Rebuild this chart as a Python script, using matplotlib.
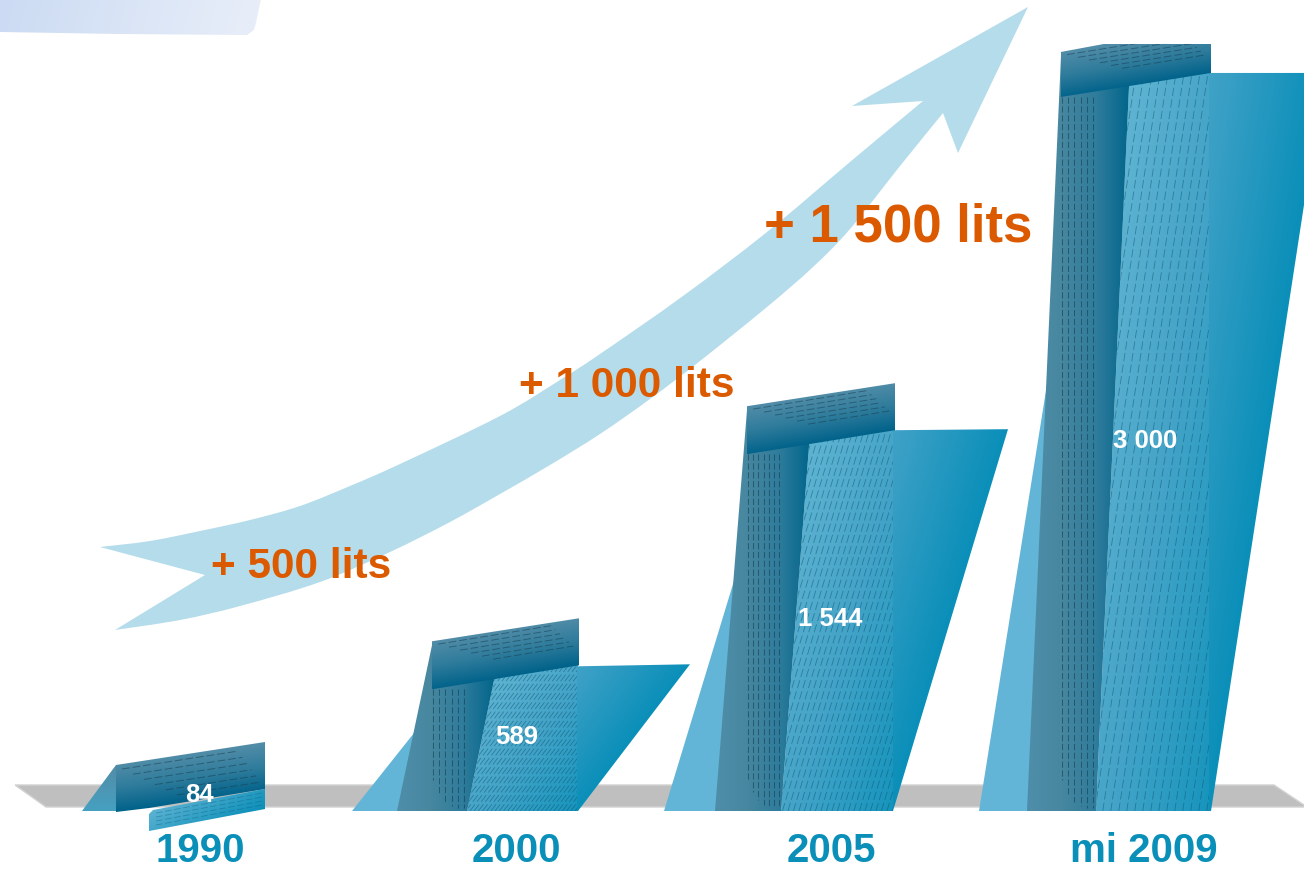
import numpy as np
import matplotlib
matplotlib.use("Agg")
import matplotlib.pyplot as plt
from matplotlib.patches import Polygon, PathPatch
from matplotlib.path import Path
from matplotlib.collections import LineCollection
from matplotlib.colors import LinearSegmentedColormap

plt.rcParams['font.family'] = ['Liberation Sans', 'DejaVu Sans']

# ---- data ----
categories = ["1990", "2000", "2005", "mi 2009"]
values = [84, 589, 1544, 3000]
value_labels = ["84", "589", "1 544", "3 000"]
gains = ["+ 500 lits", "+ 1 000 lits", "+ 1 500 lits"]

# ---- style ----
BLUE_TXT = "#0A8FB9"
ORANGE = "#DB5A00"
PALE = "#62B5D6"
ARROW = "#B4DCEA"
FACE = ["#58B0D0", "#3A9FC5", "#0A8FB9"]
COL = ["#4F8EAA", "#47879F", "#2F7C9C", "#00658B"]
SLAB = ["#528DA8", "#2F7C9C", "#00628A"]
HATCH = "#0D5A7A"
BASE = 812


def top_of(v):
    return BASE - (46.6 + 0.3045 * v ** 0.97)


fig = plt.figure(figsize=(13.04, 8.70), dpi=100)
ax = fig.add_axes([0, 0, 1, 1])
ax.set_xlim(0, 1304)
ax.set_ylim(870, 0)
ax.axis("off")
ax.autoscale(False)


def grad(verts, stops, angle, z):
    """Gradient filled polygon; the stops span the polygon's own extent."""
    v = np.asarray(verts, float)
    x0, y0 = v.min(axis=0)
    x1, y1 = v.max(axis=0)
    nx, ny = max(int(x1 - x0), 2), max(int(y1 - y0), 2)
    X, Y = np.meshgrid(np.linspace(x0, x1, nx), np.linspace(y0, y1, ny))
    a = np.deg2rad(angle)
    t = X * np.cos(a) + Y * np.sin(a)
    tv = v[:, 0] * np.cos(a) + v[:, 1] * np.sin(a)
    t = np.clip((t - tv.min()) / (tv.max() - tv.min()), 0, 1)
    cmap = LinearSegmentedColormap.from_list("g", stops)
    im = ax.imshow(t, cmap=cmap, vmin=0, vmax=1, extent=(x0, x1, y1, y0), origin="upper",
                   aspect="auto", interpolation="bilinear", zorder=z)
    p = Polygon(v, closed=True, fc="none", ec="none", zorder=z)
    ax.add_patch(p)
    im.set_clip_path(p)
    return p


def smooth(points):
    """Catmull-Rom outline through points -> Bezier path codes."""
    P = np.asarray(points, float)
    verts, codes = [], []
    for i in range(len(P) - 1):
        p0 = P[max(i - 1, 0)]
        p1, p2 = P[i], P[i + 1]
        p3 = P[min(i + 2, len(P) - 1)]
        verts += [p1 + (p2 - p0) / 6, p2 - (p3 - p1) / 6, p2]
        codes += [Path.CURVE4] * 3
    return verts, codes


def dashes(segs, clip, z, lw=0.7, pat=(7, 4), alpha=0.55, color=HATCH):
    lc = LineCollection(segs, colors=color, linewidths=lw, alpha=alpha,
                        linestyles=[(0, pat)], zorder=z)
    ax.add_collection(lc)
    if clip is not None:
        p = Polygon(clip, closed=True, fc="none", ec="none", zorder=z)
        ax.add_patch(p)
        lc.set_clip_path(p)


# ---- top-left banner remnant ----
grad([(0, 0), (261, 0), (256, 24), (254, 31), (247, 36), (120, 35), (0, 33)],
     ["#CBDBF3", "#E8EEF9"], 15, 1)

# ---- floor ----
ax.add_patch(Polygon([(15, 786), (1274, 786), (1304, 806), (1304, 808), (46, 808)],
                     closed=True, fc="#BFBFBF", ec="#D2D2D2", lw=1, zorder=2))

# ---- growth arrow ----
upper = [(100, 548), (150, 542), (200, 532), (250, 521), (300, 507), (350, 487), (400, 465),
         (500, 417), (560, 381), (600, 355), (683, 297), (767, 233), (850, 163), (923, 102)]
lower = [(943, 114), (900, 167), (850, 230), (813, 268), (767, 308), (700, 362), (650, 400),
         (600, 435), (550, 466), (500, 495), (450, 523), (390, 553), (320, 583), (240, 607),
         (180, 621), (115, 631)]
uv, uc = smooth(upper)
lv, lc_ = smooth(lower)
av = [upper[0]] + uv + [(852, 107), (1028, 8), (958, 154), lower[0]] + lv + [(205, 576), upper[0], upper[0]]
ac = [Path.MOVETO] + uc + [Path.LINETO] * 4 + lc_ + [Path.LINETO, Path.LINETO, Path.CLOSEPOLY]
ax.add_patch(PathPatch(Path(av, ac), fc=ARROW, ec="none", zorder=3))

# ---- tall bars: outline offsets are relative to each bar's top ----
tall = [
    dict(i=1, pale=352, c0=397, c1=467, apex=(417, 113), ct0=432, ct1=494, fr=578, far=690,
         slab=[(432, 25), (579, 2), (579, 49), (432, 73)], ft=(494, 64), fm=(578, 50), ff=48, dy=[],
         step=4.2, nv=6),
    dict(i=2, pale=664, c0=715, c1=781, apex=(736, 187), ct0=747, ct1=809, fr=893, far=1008,
         slab=[(747, 19), (895, -4), (895, 43), (747, 67)], ft=(809, 59), fm=(895, 43), ff=42, dy=[],
         step=5.5, nv=7),
    dict(i=3, pale=979, c0=1027, c1=1096, apex=(1048, 332), ct0=1061, ct1=1129, fr=1211, far=1304,
         slab=[(1061, 6), (1104, -2), (1211, -2), (1211, 27), (1061, 51)], ft=(1129, 41), fm=(1211, 27), ff=27,
         dy=[(1304, 159)], step=8, nv=6),
]

for s in tall:
    T = top_of(values[s["i"]])
    z = 4 + s["i"]
    # pale back wedge (runs on under the column)
    ax_, ay_ = s["apex"][0], T + s["apex"][1]
    ax2 = s["pale"] + 1.12 * (ax_ - s["pale"])
    ay2 = BASE + 1.12 * (ay_ - BASE)
    ax.add_patch(Polygon([(s["pale"], BASE), (ax2, ay2), (s["c0"] + 25, BASE)],
                         closed=True, fc=PALE, ec="none", zorder=z))
    # front face; its top edge runs on under the slab
    ftx, fty = s["ft"]
    fmx, fmy = s["fm"]
    top_y = T + fty
    lean = (ftx - s["c1"]) / (BASE - top_y)
    face_u = (ftx + lean * 14, top_y - 14)
    face = [(s["c1"], BASE), face_u, (fmx, T + fmy - 10), (fmx, T + fmy), (s["far"], T + s["ff"])]
    face += [(x, T + o) for x, o in s["dy"]] + [(s["fr"], BASE)]
    re_x, re_y = face[-2]
    edge_dx = re_x - s["fr"]
    edge_dy = BASE - re_y
    angle = np.rad2deg(np.arctan2(edge_dx, edge_dy))
    grad(face, FACE, angle, z + 0.1)
    # lighter, hatched part of the face
    hatch_end = s["slab"][-2][0] - 2
    lit = [(s["c1"], BASE), face_u, (hatch_end, T + fmy - 10), (hatch_end, BASE)]
    ax.add_patch(Polygon(lit, closed=True, fc="white", ec="none", alpha=0.05, zorder=z + 0.12))
    lean_h = edge_dx / edge_dy
    H = BASE - top_y + 14
    segs = [[(x, BASE), (x + lean_h * H, BASE - H)]
            for x in np.arange(s["c1"] - lean_h * H, hatch_end, s["step"])]
    dashes(segs, lit, z + 0.14, lw=0.6, pat=(10, 4), alpha=0.55)
    # dark column
    col = [(s["c0"], BASE), (s["ct0"], T + s["slab"][0][1] + 4), (s["ct1"] + 2, T + s["slab"][0][1] + 4),
           (s["ct1"], top_y), (s["c1"], BASE)]
    grad(col, COL, 0, z + 0.2)
    top_h = T + s["slab"][-1][1]
    xs = s["ct0"] + 1 + np.arange(s["nv"]) * 31 / (s["nv"] - 1)
    ends = BASE - 3 - 28 * (1 - (xs - xs[0]) / (xs[-1] - xs[0])) ** 3
    segs = [[(x, top_h), (x, e)] for x, e in zip(xs, ends)]
    dashes(segs, None, z + 0.24, lw=0.75, pat=(6, 2.5), alpha=0.6, color="#163F52")
    # slab
    sl = [(x, T + o) for x, o in s["slab"]]
    grad(sl, SLAB, 80, z + 0.3)
    xl = sl[-1][0]
    xr = sl[-2][0]
    bl, br = sl[-1], sl[-2]
    k = (br[1] - bl[1]) / (br[0] - bl[0])
    depth = bl[1] - sl[0][1]
    segs = []
    for r in range(6):
        a = xl + 6 + r * 11
        b = xr - 28 + r * 4.5
        y_a = sl[0][1] + depth * (0.08 + r * 0.10)
        segs.append([(a, y_a + k * (a - xl)), (b, y_a + k * (b - xl))])
    dashes(segs, sl, z + 0.34, lw=0.7, pat=(8, 3), alpha=0.55, color="#163F52")

# ---- the short 1990 bar ----
T0 = top_of(values[0])
grad([(82, BASE), (116, T0 + 23), (116, BASE)], ["#528DA8", "#46A0C0"], 90, 4)
grad([(116, T0 + 23), (265, T0), (265, T0 + 47), (149, T0 + 66), (116, T0 + 70)], SLAB, 82, 4.2)
segs = []
for r in range(6):
    a = 122 + r * 11
    b = 238 + r * 4.5
    y_a = T0 + 27 + r * 5.2
    segs.append([(a, y_a), (b, y_a + (b - a) * -23 / 149)])
dashes(segs, None, 4.3, lw=0.7, pat=(8, 3), alpha=0.55, color="#163F52")
grad([(149, T0 + 89), (149, T0 + 72), (153, T0 + 68), (265, T0 + 47), (265, T0 + 67)],
     ["#5BB2D2", "#0A8FB9"], 60, 4.5)
segs = []
for r in range(4):
    y_a = T0 + 71 + r * 4
    segs.append([(156, y_a), (262, y_a - 20)])
dashes(segs, None, 4.6, lw=0.6, pat=(8, 3), alpha=0.4)

# ---- texts ----
cat_x = [200, 516, 831, 1144]
val_pos = [(199, 795), (517, 737), (830, 619), (1145, 441)]
gain_pos = [(301, 567, 30.5), (627, 386, 30.5), (898, 227, 38)]

for c, x in zip(categories, cat_x):
    ax.text(x, 851.5, c, color=BLUE_TXT, fontsize=29, fontweight="bold",
            ha="center", va="center", zorder=20)
for lab, (x, y) in zip(value_labels, val_pos):
    ax.text(x, y, lab, color="white", fontsize=18.5, fontweight="bold",
            ha="center", va="center", zorder=20)
for g, (x, y, fs) in zip(gains, gain_pos):
    ax.text(x, y, g, color=ORANGE, fontsize=fs, fontweight="bold",
            ha="center", va="center", zorder=20)

fig.savefig("out.png", dpi=100, facecolor="white")
